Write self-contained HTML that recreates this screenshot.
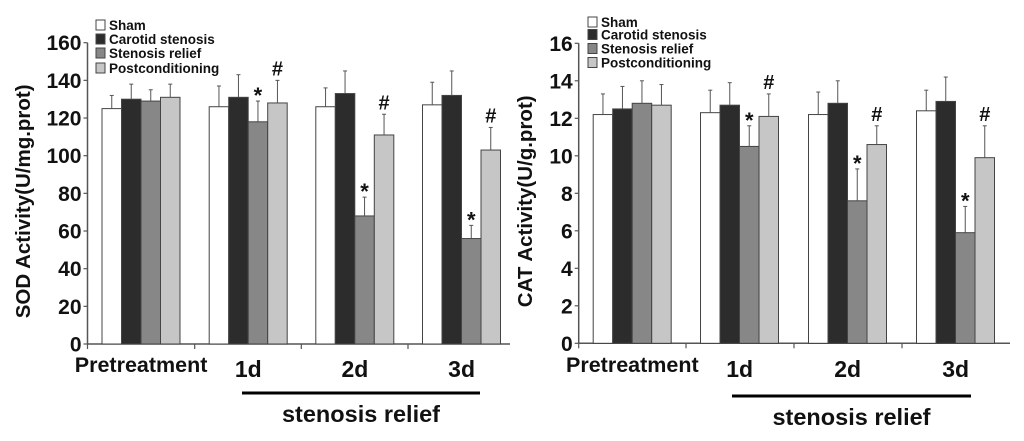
<!DOCTYPE html>
<html><head><meta charset="utf-8">
<style>
html,body{margin:0;padding:0;background:#fff;}
svg{display:block;font-family:"Liberation Sans",Arial,sans-serif;font-weight:bold;}
</style></head>
<body>
<svg id="chart" width="1024" height="441" viewBox="0 0 1024 441" xmlns="http://www.w3.org/2000/svg"></svg>
<script>
const categories = ["Pretreatment","1d","2d","3d"];
const seriesNames = ["Sham","Carotid stenosis","Stenosis relief","Postconditioning"];
// SOD chart
const sodSham = [125,126,126,127];
const sodShamErr = [132,137,136,139];
const sodCarotid = [130,131,133,132];
const sodCarotidErr = [138,143,145,145];
const sodRelief = [129,118,68,56];
const sodReliefErr = [135,129,78,63];
const sodPost = [131,128,111,103];
const sodPostErr = [138,140,122,115];
const sodTicks = [0,20,40,60,80,100,120,140,160];
// CAT chart
const catSham = [12.2,12.3,12.2,12.4];
const catShamErr = [13.3,13.5,13.4,13.5];
const catCarotid = [12.5,12.7,12.8,12.9];
const catCarotidErr = [13.7,13.9,14.0,14.2];
const catRelief = [12.8,10.5,7.6,5.9];
const catReliefErr = [14.0,11.6,9.3,7.3];
const catPost = [12.7,12.1,10.6,9.9];
const catPostErr = [13.8,13.3,11.6,11.6];
const catTicks = [0,2,4,6,8,10,12,14,16];
const reliefStars = [1,2,3];
const postHashes = [1,2,3];

const NS="http://www.w3.org/2000/svg";
const svg=document.getElementById('chart');
const fills=["#ffffff","#2c2c2c","#878787","#c6c6c6"];
function mk(tag,attrs,parent){const e=document.createElementNS(NS,tag);for(const k in attrs)e.setAttribute(k,attrs[k]);(parent||svg).appendChild(e);return e;}

function drawChart(cfg){
  const g=mk('g',{});
  
  
  const y=v=>cfg.y0-(v/cfg.max)*(cfg.y0-cfg.yTop);
  const groupW=cfg.tickX[1]-cfg.tickX[0];
  const ax=mk('line',{x1:cfg.x0,y1:cfg.yTop,x2:cfg.x0,y2:cfg.y0,stroke:"#555","stroke-width":1.5},g);
  
  cfg.ticks.forEach(t=>{
    mk('line',{x1:cfg.x0-4,y1:y(t),x2:cfg.x0,y2:y(t),stroke:"#555","stroke-width":1.2},g);
    const tx=mk('text',{x:cfg.x0-6,y:y(t)+7.5,"text-anchor":"end","font-size":21,fill:"#111"},g);
    tx.textContent=t;
    
  });
  const xa=mk('line',{x1:cfg.x0,y1:cfg.y0,x2:cfg.xEnd,y2:cfg.y0,stroke:"#555","stroke-width":1.5},g);
  
  cfg.tickX.forEach(tx=>mk('line',{x1:tx,y1:cfg.y0,x2:tx,y2:cfg.y0+5,stroke:"#555","stroke-width":1.2},g));
  const vals=[cfg.sham,cfg.carotid,cfg.relief,cfg.post];
  const errs=[cfg.shamErr,cfg.carotidErr,cfg.reliefErr,cfg.postErr];
  const bw=19.5;
  categories.forEach((c,ci)=>{
    const gx=cfg.tickX[ci]+14.5;
    for(let s=0;s<4;s++){
      const bx=gx+s*bw, v=vals[s][ci], e=errs[s][ci];
      const r=mk('rect',{x:bx,y:y(v),width:bw,height:cfg.y0-y(v),fill:fills[s],stroke:"#444","stroke-width":1},g);
      
      const cx=bx+bw/2;
      const el=mk('line',{x1:cx,y1:y(v),x2:cx,y2:y(e),stroke:"#555","stroke-width":1},g);
      
      mk('line',{x1:cx-2,y1:y(e),x2:cx+2,y2:y(e),stroke:"#555","stroke-width":1},g);
    }
    const lx=ci===0?cfg.tickX[0]+groupW/2-0:cfg.tickX[ci]+groupW/2;
    const lt=mk('text',{x:lx,y:ci===0?372:377,"text-anchor":"middle","font-size":ci===0?21.5:23,fill:"#111"},g);
    lt.textContent=c;
    
  });
  reliefStars.forEach(ci=>{
    const cx=cfg.tickX[ci]+14.5+2*bw+bw/2;
    const t=mk('text',{x:cx,y:y(cfg.reliefErr[ci])+2,"text-anchor":"middle","font-size":22,fill:"#111"},g);
    t.textContent="*";
    
  });
  postHashes.forEach(ci=>{
    const cx=cfg.tickX[ci]+14.5+3*bw+bw/2;
    const t=mk('text',{x:cx,y:y(cfg.postErr[ci])-5,"text-anchor":"middle","font-size":20,fill:"#111"},g);
    t.textContent="#";
    
  });
  const yt=mk('text',{x:0,y:0,transform:`translate(${cfg.titleX},${(cfg.y0+cfg.yTop)/2+8}) rotate(-90)`,"text-anchor":"middle","font-size":20.5,fill:"#111"},g);
  yt.textContent=cfg.title;
  
  seriesNames.forEach((n,i)=>{
    const ly=cfg.legY[i];
    const b=mk('rect',{x:cfg.legX,y:ly-5,width:9,height:10,fill:fills[i],stroke:"#444","stroke-width":1},g);
    
    const t=mk('text',{x:cfg.legX+13,y:ly+5,"font-size":13.5,fill:"#111"},g);
    t.textContent=n;
    
  });
  const br=mk('line',{x1:cfg.brX1,y1:cfg.brY,x2:cfg.brX2,y2:cfg.brY,stroke:"#000","stroke-width":3},g);
  
  const st=mk('text',{x:(cfg.brX1+cfg.brX2)/2,y:cfg.brY+29,"text-anchor":"middle","font-size":23.5,fill:"#111"},g);
  st.textContent="stenosis relief";
  
}

drawChart({name:'sod-chart',x0:87.5,y0:344,yTop:42.7,max:160,xEnd:510,tickX:[87.5,194.7,301.3,408],
  sham:sodSham,shamErr:sodShamErr,carotid:sodCarotid,carotidErr:sodCarotidErr,relief:sodRelief,reliefErr:sodReliefErr,post:sodPost,postErr:sodPostErr,
  ticks:sodTicks,title:"SOD Activity(U/mg.prot)",titleX:30,legX:96,legY:[25,39,53,68],brX1:242,brX2:480,brY:393});
drawChart({name:'cat-chart',x0:578.7,y0:343.3,yTop:43.3,max:16,xEnd:1010,tickX:[578.7,686,794,902],
  sham:catSham,shamErr:catShamErr,carotid:catCarotid,carotidErr:catCarotidErr,relief:catRelief,reliefErr:catReliefErr,post:catPost,postErr:catPostErr,
  ticks:catTicks,title:"CAT Activity(U/g.prot)",titleX:532,legX:588,legY:[22,34.5,48.5,62.5],brX1:732,brX2:971,brY:396});
</script>
</body></html>
